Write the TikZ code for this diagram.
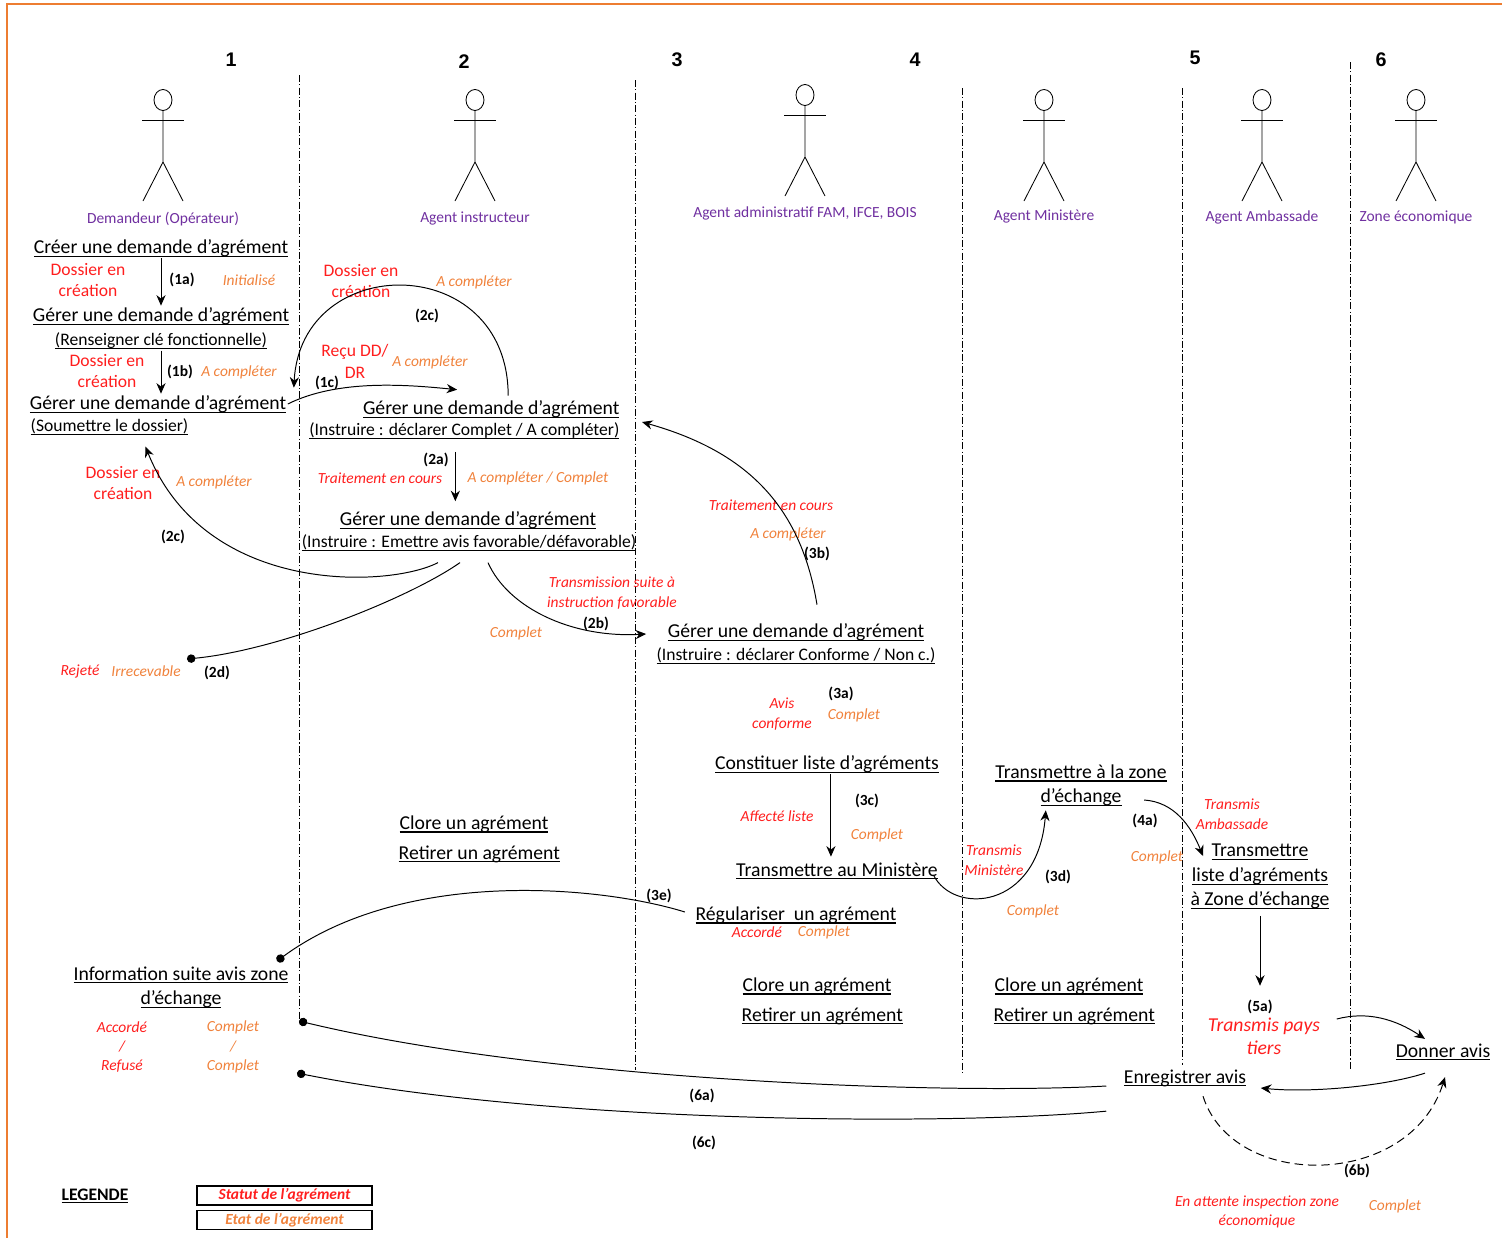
\documentclass[tikz,border=0pt]{standalone}
\usepackage{fontspec}
\setmainfont{Carlito}
\newfontfamily\chiffres{Liberation Sans}
\usetikzlibrary{arrows.meta,calc}
\definecolor{statut}{RGB}{255,30,30}
\definecolor{etat}{RGB}{240,130,60}
\definecolor{acteur}{RGB}{112,48,160}
\definecolor{cadre}{RGB}{237,125,49}
\newcommand{\souligne}[1]{\leavevmode\setbox0=\hbox{#1}\rlap{\rule[-0.17em]{\wd0}{0.055em}}\box0}
\tikzset{
  act/.style={inner sep=1pt, font=\fontsize{14}{17.7}\selectfont},
  actd/.style={inner sep=1pt, font=\fontsize{12.5}{15}\selectfont},
  statut/.style={inner sep=1pt, text=statut, align=center, font=\fontsize{12.5}{15.6}\selectfont},
  statuti/.style={inner sep=1pt, text=statut, align=center, font=\fontsize{11}{14.5}\selectfont\itshape},
  etat/.style={inner sep=1pt, text=etat, align=center, font=\fontsize{11}{14.5}\selectfont\itshape},
  etape/.style={inner sep=1pt, font=\fontsize{11}{13}\selectfont\bfseries},
  acteur/.style={inner sep=1pt, text=acteur, font=\fontsize{11}{13}\selectfont},
  colonne/.style={inner sep=1pt, font=\chiffres\bfseries\fontsize{14}{16}\selectfont},
  bonhomme/.style={line width=0.6pt},
  separation/.style={line width=0.6pt, dash pattern=on 5pt off 1.6pt on 0.8pt off 1.6pt},
  fleche/.style={line width=0.7pt, -{Stealth[length=7.5pt,width=6.5pt]}},
  lien/.style={line width=0.7pt, -{Circle[length=6pt]}},
  tirets/.style={dash pattern=on 6pt off 3.5pt},
  legende/.style={draw, line width=1pt, inner sep=0pt, minimum width=4.375cm, minimum height=0.47cm, font=\fontsize{11}{13}\selectfont\bfseries\itshape}
}
\begin{document}
\begin{tikzpicture}[x=0.025cm,y=-0.025cm]
\useasboundingbox (0,0) rectangle (1502,1238);
\draw[cadre, line width=2.1pt] (7,1238) -- (7,4) -- (1502,4);
\foreach \x/\ya/\yb in {299/75/1020, 635/80/1070, 962/88/1075, 1182/88/1065, 1350/62/1070}
  \draw[separation] (\x,\ya) -- (\x,\yb);
\foreach \n/\x/\y in {1/231/60, 2/464/62, 3/677/60, 4/915/60, 5/1195/58, 6/1381/60}
  \node[colonne] (col\n) at (\x,\y) {\n};
\foreach \x/\y in {163/100, 475/100, 805/95, 1044/100, 1262/100, 1416/100} {
  \draw[bonhomme] (\x,\y) ellipse [x radius=9, y radius=10.5];
  \draw[bonhomme] (\x-21,\y+20) -- (\x+21,\y+20);
  \draw[bonhomme] (\x,\y+10.5) -- (\x,\y+62) -- (\x-20,\y+101);
  \draw[bonhomme] (\x,\y+62) -- (\x+20,\y+101);
}
\node[acteur] (dem) at (163,219) {Demandeur (Opérateur)};
\node[acteur] (ins) at (475,219) {Agent instructeur};
\node[acteur] (adm) at (805,213) {Agent administratif FAM, IFCE, BOIS};
\node[acteur] (mns) at (1044,217) {Agent Ministère};
\node[acteur] (amb) at (1262,217) {Agent Ambassade};
\node[acteur] (zon) at (1416,217) {Zone économique};

\node[act] (cree) at (161,248) {\souligne{Créer une demande d’agrément}};
\node[act] (rens) at (161,316) {\souligne{Gérer une demande d’agrément}};
\node[actd] (rensd) at (161,341) {\souligne{(Renseigner clé fonctionnelle)}};
\node[act] (soum) at (158,404) {\souligne{Gérer une demande d’agrément}};
\node[actd, anchor=west] (soumd) at (29,427) {\souligne{(Soumettre le dossier)}};
\node[act, anchor=east] (instr) at (621,409) {\souligne{Gérer une demande d’agrément}};
\node[actd, anchor=east] (instrd) at (621,431) {\souligne{(Instruire : déclarer Complet / A compléter)}};
\node[act] (avis) at (468,520) {\souligne{Gérer une demande d’agrément}};
\node[actd] (avisd) at (469,543) {\souligne{(Instruire : Emettre avis favorable/défavorable)}};
\node[act] (conf) at (796,632) {\souligne{Gérer une demande d’agrément}};
\node[actd] (confd) at (796,656) {\souligne{(Instruire : déclarer Conforme / Non c.)}};
\node[act] (liste) at (827,764) {\souligne{Constituer liste d’agréments}};
\node[act] (minis) at (837,871) {\souligne{Transmettre au Ministère}};
\node[act] (regul) at (796,915) {\souligne{Régulariser~~un agrément}};
\node[act, anchor=west] (clore1) at (398,824) {\souligne{Clore un agrément}};
\node[act, anchor=west] (retir1) at (397,854) {\souligne{Retirer un agrément}};
\node[act, anchor=west] (clore2) at (741,986) {\souligne{Clore un agrément}};
\node[act, anchor=west] (retir2) at (740,1016) {\souligne{Retirer un agrément}};
\node[act, anchor=west] (clore3) at (993,986) {\souligne{Clore un agrément}};
\node[act, anchor=west] (retir3) at (992,1016) {\souligne{Retirer un agrément}};
\node[act] (zone) at (1081,773) {\souligne{Transmettre à la zone}};
\node[act] (zoned) at (1081,797) {\souligne{d’échange}};
\node[act] (ambas) at (1260,852) {\souligne{Transmettre}};
\node[act] (ambasb) at (1260,876) {\souligne{liste d’agréments}};
\node[act] (ambasc) at (1260,900) {\souligne{à Zone d’échange}};
\node[act] (info) at (181,975) {\souligne{Information suite avis zone}};
\node[act] (infod) at (181,999) {\souligne{d’échange}};
\node[act] (donner) at (1443,1052) {\souligne{Donner avis}};
\node[act] (enreg) at (1185,1078) {\souligne{Enregistrer avis}};

\node[etape] (e1a) at (182,280) {(1a)};
\node[statut] (s1a) at (88,280) {Dossier en\\création};
\node[etat] (t1a) at (249,280) {Initialisé};
\node[etape] (e1b) at (180,372) {(1b)};
\node[statut] (s1b) at (107,371) {Dossier en\\création};
\node[etat] (t1b) at (239,372) {A compléter};
\node[etape] (e1c) at (327,383) {(1c)};
\node[statut] (s1c) at (355,361) {Reçu DD/\\DR};
\node[etat] (t1c) at (430,362) {A compléter};
\node[etape] (e2c) at (427,316) {(2c)};
\node[statut] (s2c) at (361,281) {Dossier en\\création};
\node[etat] (t2c) at (474,282) {A compléter};
\node[etape] (e2a) at (436,460) {(2a)};
\node[statuti] (s2a) at (380,478) {Traitement en cours};
\node[etat] (t2a) at (538,478) {A compléter / Complet};
\node[etape] (e2cb) at (173,537) {(2c)};
\node[statut] (s2cb) at (123,483) {Dossier en\\création};
\node[etat] (t2cb) at (214,482) {A compléter};
\node[etape] (e2d) at (217,673) {(2d)};
\node[statuti] (s2d) at (80,671) {Rejeté};
\node[etat] (t2d) at (146,671) {Irrecevable};
\node[etape] (e2b) at (596,624) {(2b)};
\node[statuti] (s2b) at (612,593) {Transmission suite à\\instruction favorable};
\node[etat] (t2b) at (516,633) {Complet};
\node[etape] (e3b) at (817,554) {(3b)};
\node[statuti] (s3b) at (771,505) {Traitement en cours};
\node[etat] (t3b) at (788,534) {A compléter};
\node[etape] (e3a) at (841,694) {(3a)};
\node[statuti] (s3a) at (782,714) {Avis\\conforme};
\node[etat] (t3a) at (854,715) {Complet};
\node[etape] (e3c) at (867,801) {(3c)};
\node[statuti] (s3c) at (777,816) {Affecté liste};
\node[etat] (t3c) at (877,835) {Complet};
\node[etape] (e3d) at (1058,877) {(3d)};
\node[statuti] (s3d) at (994,860) {Transmis\\Ministère};
\node[etat] (t3d) at (1033,911) {Complet};
\node[etape] (e3e) at (659,896) {(3e)};
\node[statuti] (s3e) at (757,932) {Accordé};
\node[etat] (t3e) at (824,932) {Complet};
\node[etape] (e4a) at (1145,821) {(4a)};
\node[statuti] (s4a) at (1232,814) {Transmis\\Ambassade};
\node[etat] (t4a) at (1157,857) {Complet};
\node[etape] (e5a) at (1260,1007) {(5a)};
\node[statuti, font=\fontsize{14}{16.3}\selectfont\itshape] (pays) at (1264,1036) {Transmis pays\\tiers};
\node[etape] (e6a) at (702,1096) {(6a)};
\node[etape] (e6c) at (704,1143) {(6c)};
\node[etape] (e6b) at (1357,1171) {(6b)};
\node[statuti, font=\fontsize{11}{13.5}\selectfont\itshape] (s6b) at (1257,1212) {En attente inspection zone\\économique};
\node[etat] (t6b) at (1395,1206) {Complet};
\node[statuti, font=\fontsize{11}{13.8}\selectfont\itshape] (s6) at (122,1047) {Accordé\\/\\Refusé};
\node[etat, font=\fontsize{11}{13.8}\selectfont\itshape] (t6) at (233,1047) {Complet\\/\\Complet};

\node[font=\fontsize{12.5}{14}\selectfont\bfseries] (leg) at (95,1196) {\souligne{LEGENDE}};
\node[legende, text=statut] (legs) at (284.5,1195.5) {Statut de l’agrément};
\node[legende, text=etat] (lege) at (284.5,1220) {Etat de l’agrément};

\coordinate (fin2d) at (187,659);
\coordinate (fin3e) at (277,961);
\coordinate (fin6a) at (299,1021);
\coordinate (fin6c) at (297,1073);

\draw[fleche] (cree.south) -- (cree.south |- rens.north);
\draw[fleche] (rensd.south) -- (rensd.south |- soum.north);
\draw[fleche] (soum.east) .. controls +(50,-25) and +(-50,-5) .. ($(instr.north)+(-34,-9)$);
\draw[fleche] ($(instr.north)+(17,-3)$) .. controls +(0,-145) and +(7,-137) .. ($(soum.north east)+(6,-6)$);
\draw[fleche, shorten <=8pt, shorten >=6pt] ([xshift=-6.4pt]instrd.south) -- ([xshift=-6.4pt]instrd.south |- avis.north);
\draw[fleche] ($(avisd.south)+(-31,10)$) .. controls +(-48,25) and +(60,150) .. ($(soumd.south)+(36,10)$);
\draw[lien] ($(avisd.south)+(-9,10)$) .. controls +(-50,35) and +(93,-9) .. (fin2d);
\draw[fleche] ($(avisd.south)+(19,10)$) .. controls +(20,45) and +(-75,4) .. ($(conf.west)+(-20,2)$);
\draw[fleche] ($(conf.north)+(21,-17)$) .. controls +(-17,-104) and +(99,28) .. ($(instrd.east)+(21,-9)$);
\draw[fleche, shorten >=3pt] ([xshift=2.8pt]liste.south) -- ([xshift=2.8pt]liste.south |- minis.north);
\draw[fleche] ($(minis.east)+(-6,4)$) .. controls +(20,40) and +(-8,100) .. ($(zoned.south west)+(7,3)$);
\draw[lien] ($(regul.west)+(-9,-3)$) .. controls +(-80,-25) and +(130,-95) .. (fin3e);
\draw[fleche] ($(zoned.east)+(21,3)$) .. controls +(30,2) and +(-12,-30) .. ($(ambas.west)+(-7,4)$);
\draw[fleche, shorten <=4pt, shorten >=9pt] (ambasc.south) -- (ambasc.south |- e5a.north);
\draw[fleche] ($(pays.north east)+(15,3)$) .. controls +(30,-8) and +(-30,-20) .. ($(donner.north)+(-18,-3)$);
\draw[fleche] ($(donner.south)+(-18,11)$) .. controls +(-40,13) and +(50,5) .. ($(enreg.east)+(13,10)$);
\draw[fleche, tirets] ($(enreg.south)+(18,8)$) .. controls +(30,95) and +(-35,112) .. ($(donner.south)+(2,15)$);
\draw[lien] ($(enreg.west)+(-16,8)$) .. controls +(-160,9) and +(250,60) .. (fin6a);
\draw[lien] ($(enreg.south west)+(-16,23)$) .. controls +(-160,15) and +(250,50) .. (fin6c);
\end{tikzpicture}
\end{document}
